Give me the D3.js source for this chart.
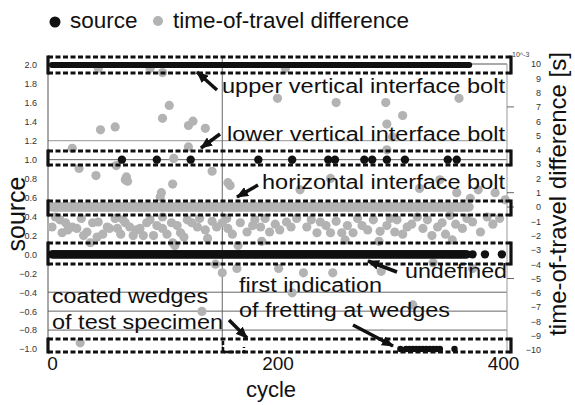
<!DOCTYPE html>
<html>
<head>
<meta charset="utf-8">
<script src="https://cdn.jsdelivr.net/npm/d3@7"></script>
<style>
  body { margin: 0; background: #fff; }
  svg { display: block; font-family: "Liberation Sans", Arial, sans-serif; }
</style>
</head>
<body>
<svg id="chart" width="575" height="405"></svg>
<script>
// tick labels
const sourceTicks = [2.0, 1.8, 1.6, 1.4, 1.2, 1.0, 0.8, 0.6, 0.4, 0.2, 0.0, -0.2, -0.4, -0.6, -0.8, -1.0];
const travelTicks = [10, 9, 8, 7, 6, 5, 4, 3, 2, 1, 0, -1, -2, -3, -4, -5, -6, -7, -8, -9, -10];
const cycleTicks = [0, 200, 400];

// source: continuous runs [value, firstCycle, lastCycle] plus single cycles
const sourceRuns = [[2, 0, 370], [0, 0, 368]];
const sourceAt1 = [62, 93, 123, 183, 213, 245, 251, 277, 284, 297, 313, 351, 359];
const sourceAt0 = [373, 384, 399];
const sourceAtMinus1 = [309, 314, 317, 320, 323, 326, 329, 332, 335, 338, 341, 344, 357];

// time-of-travel difference (10^-3 s): run at 0 plus scattered [cycle, value]
const travelRuns = [[0, 0, 370]];
const travelScatter = [
  [41, 9.7], [87, 9.7], [98, 9.4], [104, 7.1], [207, 9.7], [98, 6.2], [121, 5.7], [125, 6.0],
  [136, 5.5], [121, 4.2], [108, 3.4], [200, 7.6], [252, 7.3], [296, 7.3], [311, 6.4], [297, 5.8],
  [361, 7.6], [43, 5.4], [56, 5.6], [18, 4.1], [24, 2.7], [39, 2.2], [57, 2.9], [66, 2.1],
  [65, 1.9], [107, 1.6], [97, 1.0], [142, 2.5], [156, 1.7], [297, 4.0], [302, 4.9],
  [67, 1.8], [158, 1.5], [359, 1.0], [371, 0.6], [378, 1.2], [393, 1.0], [402, 0.5], [220, 1.2],
  [247, 2.0], [326, 1.3], [344, 1.9], [96, 0.7],
  [0, -1.4], [7, -0.9], [18, -1.4], [22, -1.5], [31, -1.75], [36, -1.1], [40, -2.1], [49, -1.4],
  [58, -1.5], [65, -1.1], [72, -2.0], [78, -1.5], [84, -1.1], [90, -2.0], [98, -1.5], [107, -2.5],
  [120, -0.9], [129, -1.4], [138, -2.2], [151, -1.1], [156, -1.5],
  [9, -1.8], [14, -1.6], [28, -2.0], [41, -1.05], [51, -1.5], [63, -0.9], [75, -1.6], [87, -0.9],
  [98, -0.7], [106, -1.1], [124, -1.1], [136, -1.6], [146, -1.4], [155, -0.8], [167, -1.1],
  [173, -1.75], [185, -1.4], [193, -1.75], [202, -1.6], [208, -1.05], [217, -0.8], [226, -1.4],
  [235, -1.8], [247, -1.8], [257, -1.8], [267, -1.8], [275, -1.3], [285, -0.9], [297, -1.3],
  [306, -0.9], [315, -1.4], [324, -0.7], [333, -0.9], [342, -1.4], [353, -0.6], [364, -1.5],
  [373, -1.05], [386, -0.7], [397, -0.8],
  [34, -2.5], [109, -2.7], [165, -2.7], [151, -4.6], [164, -4.3], [223, -4.6], [249, -4.6],
  [338, -3.9], [373, -4.3], [213, -6.0], [133, -7.3], [320, -6.85], [25, -9.5],
  [56, -0.8], [114, -1.8], [180, -0.9], [238, -1.05], [304, -1.75], [349, -1.9], [380, -1.75],
  [3, -0.7], [12, -1.1], [26, -0.8], [45, -1.9], [61, -1.9], [69, -1.4], [81, -2.0], [93, -1.3],
  [102, -1.9], [111, -1.3], [117, -2.1], [131, -0.8], [142, -1.0], [160, -1.9], [178, -1.3],
  [189, -0.8], [198, -1.2], [212, -1.4], [230, -0.9], [243, -1.3], [252, -1.0], [262, -1.3],
  [271, -0.8], [280, -1.6], [291, -1.7], [300, -0.8], [311, -1.9], [319, -1.2], [329, -1.5],
  [337, -2.0], [346, -1.1], [358, -1.2], [368, -0.8], [391, -1.2], [186, -2.4], [260, -2.3],
  [290, -2.4], [355, -2.3], [145, -4.0], [201, -4.3], [292, -4.5]
];

const gridSource = [1.2, 1.0, -0.4, -0.6, -0.8];
const rightMarks = [7, 1, 0, -5];
const firstIndicationCycle = 151;

const svg = d3.select("#chart");
const black = "#111", grey = "#b3b3b3";

const x = d3.scaleLinear().domain([0, 400]).range([52, 503]);
const ySrc = d3.scaleLinear().domain([-1, 2]).range([349, 65]);
const yTt = d3.scaleLinear().domain([-10, 10]).range([350, 64]);

const plotLeft = 48, plotRight = 507, plotTop = 64, plotBottom = 352;

// frame + grid
svg.append("g").selectAll("line").data(gridSource).join("line")
  .attr("x1", plotLeft).attr("x2", plotRight)
  .attr("y1", d => ySrc(d)).attr("y2", d => ySrc(d))
  .attr("stroke", (d, i) => i === 0 ? "#888" : "#555").attr("stroke-width", 0.9);
svg.append("line").attr("x1", plotLeft).attr("x2", plotRight).attr("y1", plotTop).attr("y2", plotTop).attr("stroke", "#555");
svg.append("line").attr("x1", plotLeft).attr("x2", plotLeft).attr("y1", 57).attr("y2", plotBottom).attr("stroke", "#555");
svg.append("line").attr("x1", plotRight).attr("x2", plotRight).attr("y1", plotTop).attr("y2", plotBottom).attr("stroke", "#aaa").attr("stroke-width", 1.2);
svg.append("line").attr("x1", x(firstIndicationCycle)).attr("x2", x(firstIndicationCycle))
  .attr("y1", 57).attr("y2", plotBottom).attr("stroke", "#555").attr("stroke-width", 0.9);
svg.append("g").selectAll("line").data(rightMarks).join("line")
  .attr("x1", plotRight).attr("x2", plotRight + 7)
  .attr("y1", d => yTt(d)).attr("y2", d => yTt(d)).attr("stroke", "#666");

// points
const travelPts = [];
travelRuns.forEach(([v, a, b]) => d3.range(a, b + 1).forEach(c => travelPts.push([c, v])));
travelScatter.forEach(p => travelPts.push(p));

svg.append("g").selectAll("circle").data(travelPts).join("circle")
  .attr("cx", d => x(d[0])).attr("cy", d => yTt(d[1])).attr("r", 4.6).attr("fill", grey);

const sourcePts = [];
sourceRuns.forEach(([v, a, b]) => d3.range(a, b + 1).forEach(c => sourcePts.push([c, v])));
sourceAt1.forEach(c => sourcePts.push([c, 1]));
sourceAt0.forEach(c => sourcePts.push([c, 0]));
sourceAtMinus1.forEach(c => sourcePts.push([c, -1]));

svg.append("g").selectAll("circle").data(sourcePts).join("circle")
  .attr("cx", d => x(d[0])).attr("cy", d => ySrc(d[1]))
  .attr("r", d => d[1] === 2 ? 3 : (d[1] === -1 ? 3.2 : 4.2))
  .attr("fill", black);

// dashed boxes (top, bottom in px)
const boxes = [[57, 73], [151, 165], [201, 215], [243, 264], [339, 352]];
const boxG = svg.append("g").attr("stroke", black).attr("fill", "none");
boxes.forEach(([t, b]) => {
  [t, b].forEach(yy => boxG.append("line").attr("x1", plotLeft).attr("x2", 511).attr("y1", yy).attr("y2", yy)
    .attr("stroke-width", 3).attr("stroke-dasharray", "5,2.5"));
  [plotLeft, 511].forEach(xx => boxG.append("line").attr("x1", xx).attr("x2", xx).attr("y1", t - 1.5).attr("y2", b + 1.5)
    .attr("stroke-width", 3.2));
});
boxG.append("path").attr("d", "M223,341V352H244V347").attr("stroke-width", 2.5).attr("stroke-dasharray", "4,2");

// axes
const axL = svg.append("g").attr("transform", "translate(40,0)")
  .call(d3.axisLeft(ySrc).tickValues(sourceTicks).tickSize(0).tickPadding(3).tickFormat(d3.format(".1f")));
const axR = svg.append("g").attr("transform", "translate(544,0)")
  .call(d3.axisLeft(yTt).tickValues(travelTicks).tickSize(0).tickPadding(3).tickFormat(d3.format("d")));
const axB = svg.append("g").attr("transform", `translate(0,${plotBottom})`)
  .call(d3.axisBottom(x).tickValues(cycleTicks).tickSize(0).tickPadding(4.5));
[axL, axR, axB].forEach(a => a.select(".domain").remove());
[axL, axR].forEach(a => a.selectAll("text").attr("font-size", 9).attr("fill", "#333")
  .attr("font-family", "Liberation Sans, Arial, sans-serif"));
axB.selectAll("text").attr("font-size", 19).attr("fill", black).attr("font-family", "Liberation Sans, Arial, sans-serif");

svg.append("text").attr("x", 512).attr("y", 57).attr("font-size", 7).attr("fill", "#444").text("10^-3");

// titles
svg.append("text").attr("x", 271).attr("y", 397).attr("text-anchor", "middle").attr("font-size", 22).attr("fill", black).text("cycle");
svg.append("text").attr("transform", "translate(25,214) rotate(-90)").attr("text-anchor", "middle")
  .attr("font-size", 25).attr("fill", black).text("source");
svg.append("text").attr("transform", "translate(566,194) rotate(-90)").attr("text-anchor", "middle")
  .attr("font-size", 24).attr("fill", black).text("time-of-travel difference [s]");

// legend
svg.append("circle").attr("cx", 55).attr("cy", 22).attr("r", 5.5).attr("fill", black);
svg.append("text").attr("x", 70).attr("y", 28).attr("font-size", 22.5).attr("fill", black).text("source");
svg.append("circle").attr("cx", 158).attr("cy", 21).attr("r", 5).attr("fill", grey);
svg.append("text").attr("x", 173).attr("y", 28).attr("font-size", 22.5).attr("fill", black).text("time-of-travel difference");

// annotations
const notes = [
  ["upper vertical interface bolt", 222, 93, 283],
  ["lower vertical interface bolt", 227, 141, 278],
  ["horizontal interface bolt", 262, 189, 243],
  ["undefined", 405, 278, 102],
  ["first indication", 239, 292, 143],
  ["of fretting at wedges", 239, 317, 211],
  ["coated wedges", 52, 303, 156],
  ["of test specimen", 52, 329, 171]
];
svg.append("g").selectAll("text").data(notes).join("text")
  .attr("x", d => d[1]).attr("y", d => d[2]).attr("font-size", 19.5).attr("fill", black)
  .attr("textLength", d => d[3]).attr("lengthAdjust", "spacingAndGlyphs").text(d => d[0]);

svg.append("defs").append("marker").attr("id", "head")
  .attr("viewBox", "0 0 12 10").attr("refX", 11).attr("refY", 5)
  .attr("markerWidth", 12).attr("markerHeight", 10).attr("markerUnits", "userSpaceOnUse")
  .attr("orient", "auto")
  .append("path").attr("d", "M0,0L12,5L0,10Z").attr("fill", black);

const arrows = [
  [217, 90, 197, 72], [220, 134, 201, 148], [258, 185, 237, 197],
  [397, 272, 368, 261], [229, 320, 247, 338], [353, 325, 393, 346]
];
svg.append("g").selectAll("line").data(arrows).join("line")
  .attr("x1", d => d[0]).attr("y1", d => d[1]).attr("x2", d => d[2]).attr("y2", d => d[3])
  .attr("stroke", black).attr("stroke-width", 3.5).attr("marker-end", "url(#head)");
</script>
</body>
</html>
